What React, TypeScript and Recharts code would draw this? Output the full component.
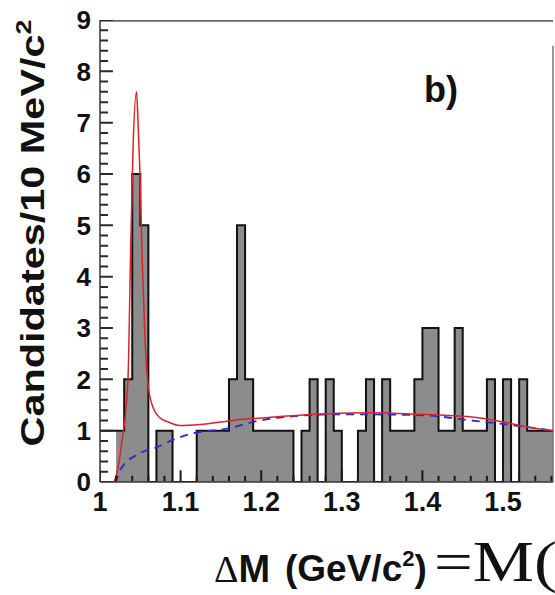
import React from "react";
import {
  Area,
  ComposedChart,
  Label,
  Line,
  ReferenceLine,
  XAxis,
  YAxis,
} from "recharts";

const SANS = '"Liberation Sans", Arial, Helvetica, sans-serif';
const SERIF = '"Liberation Serif", "Times New Roman", serif';

// histogram binning: 10 MeV bins starting at 1.00 GeV
const binStart = 1.0;
const binWidth = 0.01;

// filled (gray) histogram, candidates per bin
const filledCounts = [
  0, 0, 1, 2, 6, 5, 0, 1, 1, 0,
  0, 0, 1, 1, 1, 1, 2, 5, 2, 1,
  1, 1, 1, 1, 0, 1, 2, 0, 2, 1,
  0, 0, 1, 2, 0, 2, 1, 1, 1, 2,
  3, 3, 1, 1, 3, 1, 1, 1, 2, 0,
  2, 0, 2, 1, 1, 1, 1,
];

// outlined (black) histogram
const outlineCounts = [
  1, 1, 1, 2, 6, 5, 0, 1, 1, 0,
  0, 0, 1, 1, 1, 1, 2, 5, 2, 1,
  1, 1, 1, 1, 0, 1, 2, 0, 2, 1,
  0, 0, 1, 2, 0, 2, 1, 1, 1, 2,
  3, 3, 1, 1, 3, 1, 1, 1, 2, 0,
  2, 0, 2, 1, 1, 1, 1,
];

// total fit (signal + background)
const fitMass = [
  1.017, 1.0186, 1.0273, 1.0347, 1.038, 1.041, 1.0453, 1.047, 1.0496, 1.052,
  1.0558, 1.0596, 1.0658, 1.0744, 1.083, 1.099, 1.124, 1.165, 1.22, 1.294,
  1.335, 1.397, 1.459, 1.5, 1.537, 1.562,
];
const fitValue = [
  0, 0.05, 0.8, 2.0, 4.5, 6.5, 7.6, 7.1, 6.0, 4.5,
  2.8, 1.9, 1.45, 1.25, 1.18, 1.1, 1.12, 1.2, 1.27, 1.34,
  1.35, 1.32, 1.27, 1.17, 1.05, 1.0,
];

// background component of the fit
const bkgMass = [
  1.0, 1.0186, 1.0248, 1.0496, 1.0707, 1.0906, 1.108, 1.161, 1.19, 1.22,
  1.3, 1.4, 1.46, 1.5, 1.54, 1.562,
];
const bkgValue = [
  0, 0, 0.23, 0.56, 0.68, 0.82, 0.92, 1.05, 1.17, 1.25,
  1.32, 1.3, 1.2, 1.13, 1.05, 1.0,
];

const X_MIN = 1;
const X_MAX = 1.562;
const Y_MAX = 9;

const xLabelTicks = [1, 1.1, 1.2, 1.3, 1.4, 1.5];
const yLabelTicks = [0, 1, 2, 3, 4, 5, 6, 7, 8, 9];
// minor divisions: 0.2 candidates on y, 20 MeV on x
const yTickValues = Array.from({ length: 46 }, (_, i) => Math.round(i * 2) / 10);
const xTickValues = Array.from({ length: 29 }, (_, i) => Math.round((1 + i * 0.02) * 100) / 100);

// step-histogram points: one per bin low edge plus the closing edge
const histPoints = filledCounts.map((g, k) => ({
  x: binStart + k * binWidth,
  g,
  b: outlineCounts[k],
}));
histPoints.push({
  x: binStart + filledCounts.length * binWidth,
  g: filledCounts[filledCounts.length - 1],
  b: outlineCounts[outlineCounts.length - 1],
});

const fitPoints = fitMass.map((x, i) => ({ x, y: fitValue[i] }));
const bkgPoints = bkgMass.map((x, i) => ({ x, y: bkgValue[i] }));

// inward ROOT-style tick marks as broken segments (null splits the path)
const xTickMarks = xTickValues.flatMap((v) => {
  const len = Math.round(v * 100) % 10 === 0 ? 0.23 : 0.12;
  return [
    { x: v, mark: 0.02 },
    { x: v, mark: len },
    { x: v, mark: null },
  ];
});

const yTickMarks = yTickValues.flatMap((v) => {
  const len = Number.isInteger(v) ? 0.016 : 0.01;
  return [
    { x: X_MIN, ymark: v },
    { x: X_MIN + len, ymark: v },
    { x: X_MIN + len, ymark: null },
  ];
});

const frameTop = [
  { x: X_MIN, edge: Y_MAX - 0.01 },
  { x: X_MAX, edge: Y_MAX - 0.01 },
];

function YTick(props: any) {
  const { x, y, payload } = props;
  return (
    <text x={x} y={y} dy="0.36em" textAnchor="end" fontFamily={SANS} fontWeight="bold" fontSize={26} fill="#111">
      {payload.value}
    </text>
  );
}

function XTick(props: any) {
  const { x, y, payload } = props;
  const v = payload.value;
  return (
    <text x={x} y={y} dy="0.71em" textAnchor="middle" fontFamily={SANS} fontWeight="bold" fontSize={27} fill="#111">
      {v === 1 ? "1" : v.toFixed(1)}
    </text>
  );
}

function YTitle() {
  return (
    <text
      x={44}
      y={233}
      transform="rotate(-90 44 233)"
      textAnchor="middle"
      fontFamily={SANS}
      fontWeight="bold"
      fontSize={34}
      fill="#111"
      textLength={427}
      lengthAdjust="spacingAndGlyphs"
    >
      Candidates/10 MeV/c<tspan dy={-13} fontSize={22}>2</tspan>
    </text>
  );
}

function XTitle() {
  return (
    <g fill="#111">
      <text x={214} y={582}>
        <tspan fontFamily={SERIF} fontSize={38}>Δ</tspan>
        <tspan fontFamily={SANS} fontWeight="bold" fontSize={38}>M</tspan>
      </text>
      <text x={285} y={581} fontFamily={SANS} fontWeight="bold" fontSize={37}>
        (GeV/c<tspan dy={-15} fontSize={22}>2</tspan>
        <tspan dy={15}>)</tspan>
      </text>
      <text x={434} y={581} fontFamily={SERIF} fontSize={58} textLength={123} lengthAdjust="spacingAndGlyphs">
        =M(
      </text>
    </g>
  );
}

function PanelTag() {
  return (
    <text x={424} y={102} fontFamily={SANS} fontWeight="bold" fontSize={36} fill="#111">
      b)
    </text>
  );
}

export default function App() {
  return (
    <div style={{ position: "absolute", left: 0, top: 0, width: 555, height: 595, background: "#fff" }}>
      <ComposedChart width={555} height={595} margin={{ top: 20, right: 2, bottom: 0, left: 0 }}>
        {/* frame: top edge and right edge */}
        <Line
          data={frameTop}
          dataKey="edge"
          type="linear"
          stroke="#666"
          strokeWidth={2.5}
          dot={false}
          activeDot={false}
          isAnimationActive={false}
        />
        <ReferenceLine
          segment={[
            { x: X_MAX, y: 0 },
            { x: X_MAX, y: 8.5 },
          ]}
          stroke="#777"
          strokeWidth={1.5}
          ifOverflow="visible"
        />

        <Area
          data={histPoints}
          dataKey="g"
          type="stepAfter"
          fill="#8c8c8c"
          fillOpacity={1}
          stroke="none"
          isAnimationActive={false}
        />
        <Line
          data={histPoints}
          dataKey="b"
          type="stepAfter"
          stroke="#111"
          strokeWidth={2}
          dot={false}
          activeDot={false}
          isAnimationActive={false}
        />
        <Line
          data={bkgPoints}
          dataKey="y"
          type="monotone"
          stroke="#2a2ad0"
          strokeWidth={1.8}
          strokeDasharray="8 6"
          dot={false}
          activeDot={false}
          isAnimationActive={false}
        />
        <Line
          data={fitPoints}
          dataKey="y"
          type="monotone"
          stroke="#e0202a"
          strokeWidth={1.5}
          dot={false}
          activeDot={false}
          isAnimationActive={false}
        />
        <Line
          data={xTickMarks}
          dataKey="mark"
          type="linear"
          stroke="#1a1a1a"
          strokeWidth={2}
          connectNulls={false}
          dot={false}
          activeDot={false}
          isAnimationActive={false}
        />
        <Line
          data={yTickMarks}
          dataKey="ymark"
          type="linear"
          stroke="#2a2a2a"
          strokeWidth={2}
          connectNulls={false}
          dot={false}
          activeDot={false}
          isAnimationActive={false}
        />

        <XAxis
          type="number"
          dataKey="x"
          domain={[X_MIN, X_MAX]}
          allowDataOverflow
          ticks={xLabelTicks}
          interval={0}
          tick={<XTick />}
          tickLine={false}
          tickSize={0}
          tickMargin={10}
          height={113}
          axisLine={{ stroke: "#333", strokeWidth: 1.5 }}
        >
          <Label content={XTitle} />
        </XAxis>
        <YAxis
          type="number"
          domain={[0, Y_MAX]}
          allowDataOverflow
          ticks={yLabelTicks}
          interval={0}
          width={100}
          tick={<YTick />}
          tickLine={false}
          tickSize={0}
          tickMargin={9}
          axisLine={{ stroke: "#333", strokeWidth: 1.5 }}
        >
          <Label content={YTitle} />
          <Label content={PanelTag} />
        </YAxis>
      </ComposedChart>
    </div>
  );
}
